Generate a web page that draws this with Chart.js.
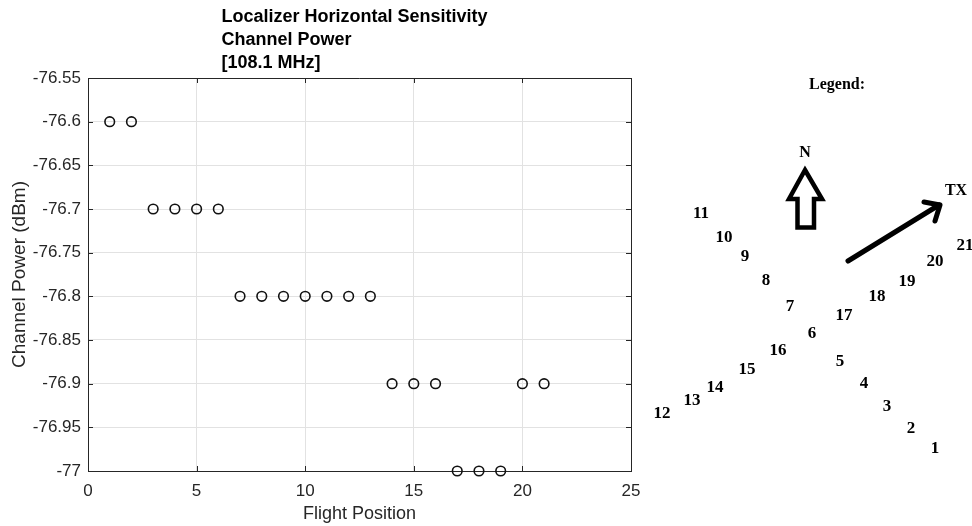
<!DOCTYPE html>
<html>
<head>
<meta charset="utf-8">
<title>Localizer Horizontal Sensitivity</title>
<script src="https://cdn.jsdelivr.net/npm/chart.js@4"></script>
<style>
  body { margin: 0; background: #fff; }
  #wrap { position: relative; width: 972px; height: 526px; }
  #main-chart { position: absolute; left: 0; top: 0; }
  #legend-chart { position: absolute; left: 640px; top: 0; }
</style>
</head>
<body>
<div id="wrap">
  <canvas id="main-chart" width="972" height="526"></canvas>
  <canvas id="legend-chart" width="332" height="526"></canvas>
</div>
<script>
// chart data
const titleLines = ["Localizer Horizontal Sensitivity", "Channel Power", "[108.1 MHz]"];
const flightPositions = [1, 2, 3, 4, 5, 6, 7, 8, 9, 10, 11, 12, 13, 14, 15, 16, 17, 18, 19, 20, 21];
const channelPower = [-76.6, -76.6, -76.7, -76.7, -76.7, -76.7, -76.8, -76.8, -76.8, -76.8, -76.8,
  -76.8, -76.8, -76.9, -76.9, -76.9, -77, -77, -77, -76.9, -76.9];
const xTicks = [0, 5, 10, 15, 20, 25];
const yTicks = [-77, -76.95, -76.9, -76.85, -76.8, -76.75, -76.7, -76.65, -76.6, -76.55];

// legend diagram (a picture in the original), in page pixel units
const legendLabels = ["1", "2", "3", "4", "5", "6", "7", "8", "9", "10", "11",
  "12", "13", "14", "15", "16", "17", "18", "19", "20", "21"];
const legendX = [935, 911, 887, 864, 840, 812, 790, 766, 745, 724, 701,
  662, 692, 715, 747, 778, 844, 877, 907, 935, 965];
const legendY = [449, 429, 407, 384, 362, 334, 307, 281, 257, 238, 214,
  414, 401, 388, 370, 351, 316, 297, 282, 262, 246];
const compassLabels = ["Legend:", "N", "TX"];
const compassX = [837, 805, 956];
const compassY = [85, 153, 191];
const northArrowX = [805, 822, 814, 814, 797.5, 797.5, 789];
const northArrowY = [170, 199, 199, 227.5, 227.5, 199, 199];
const txShaftX = [848, 939];
const txShaftY = [261, 205];
const txHeadX = [924, 940, 935];
const txHeadY = [202, 205, 221];

const axisColor = "#262626";
const plotLeft = 88, plotRight = 631, plotTop = 78, plotBottom = 471;

// title lines + inward ticks + box, MATLAB style
const matlabFrame = {
  id: "matlabFrame",
  afterDraw(chart) {
    const ctx = chart.ctx;
    const area = chart.chartArea;
    const xs = chart.scales.x, ys = chart.scales.y;
    ctx.save();
    ctx.strokeStyle = axisColor;
    ctx.lineWidth = 1;
    ctx.beginPath();
    ctx.moveTo(area.left, area.top + 0.5);
    ctx.lineTo(area.right + 0.5, area.top + 0.5);
    ctx.lineTo(area.right + 0.5, area.bottom);
    xTicks.forEach((t) => {
      const px = Math.round(xs.getPixelForValue(t)) + 0.5;
      ctx.moveTo(px, area.bottom);
      ctx.lineTo(px, area.bottom - 5);
      ctx.moveTo(px, area.top);
      ctx.lineTo(px, area.top + 5);
    });
    yTicks.forEach((t) => {
      const py = Math.round(ys.getPixelForValue(t)) + 0.5;
      ctx.moveTo(area.left, py);
      ctx.lineTo(area.left + 5, py);
      ctx.moveTo(area.right, py);
      ctx.lineTo(area.right - 5, py);
    });
    ctx.stroke();

    // title block: lines left-aligned, block roughly centred over the axes
    ctx.font = "bold 18px 'Liberation Sans', Arial, sans-serif";
    ctx.fillStyle = "#000";
    ctx.textBaseline = "middle";
    ctx.textAlign = "left";
    const widest = Math.max(...titleLines.map((l) => ctx.measureText(l).width));
    const x0 = (area.left + area.right) / 2 - widest / 2 - 5;
    titleLines.forEach((line, i) => {
      ctx.fillText(line, x0, 17 + i * 23);
    });
    ctx.restore();
  },
};

new Chart(document.getElementById("main-chart"), {
  type: "scatter",
  data: {
    datasets: [
      {
        label: "Channel Power",
        data: flightPositions.map((p, i) => ({ x: p, y: channelPower[i] })),
        clip: false,
        pointStyle: "circle",
        pointRadius: 4.8,
        pointHoverRadius: 4.8,
        pointBorderWidth: 1.6,
        pointBorderColor: "#111",
        pointBackgroundColor: "rgba(0,0,0,0)",
      },
    ],
  },
  options: {
    responsive: false,
    animation: false,
    events: [],
    layout: { padding: { top: plotTop, right: 972 - plotRight, bottom: 0, left: 0 } },
    plugins: { legend: { display: false }, tooltip: { enabled: false } },
    scales: {
      x: {
        type: "linear",
        min: 0,
        max: 25,
        afterBuildTicks: (scale) => {
          scale.ticks = xTicks.map((v) => ({ value: v }));
        },
        afterFit: (scale) => {
          scale.height = 526 - plotBottom;
        },
        ticks: {
          color: axisColor,
          font: { family: "'Liberation Sans', Arial, sans-serif", size: 17 },
          padding: 10,
          maxRotation: 0,
          callback: (v) => String(v),
        },
        grid: { color: "#e2e2e2", drawTicks: false, tickLength: 0 },
        border: { display: true, color: axisColor, width: 1 },
        title: {
          display: true,
          text: "Flight Position",
          color: axisColor,
          font: { family: "'Liberation Sans', Arial, sans-serif", size: 18 },
          padding: { top: 0, bottom: 1 },
        },
      },
      y: {
        type: "linear",
        min: -77,
        max: -76.55,
        afterBuildTicks: (scale) => {
          scale.ticks = yTicks.map((v) => ({ value: v }));
        },
        afterFit: (scale) => {
          scale.width = plotLeft;
        },
        ticks: {
          color: axisColor,
          font: { family: "'Liberation Sans', Arial, sans-serif", size: 17 },
          padding: 7,
          callback: (v) => String(Number(v.toFixed(2))),
        },
        grid: { color: "#e2e2e2", drawTicks: false, tickLength: 0 },
        border: { display: true, color: axisColor, width: 1 },
        title: {
          display: true,
          text: "Channel Power (dBm)",
          color: axisColor,
          font: { family: "'Liberation Sans', Arial, sans-serif", size: 19 },
          padding: { top: 8, bottom: 0 },
        },
      },
    },
  },
  plugins: [matlabFrame],
});

// legend diagram: labels and arrows placed through the chart's own scales
const diagramPainter = {
  id: "diagramPainter",
  afterDatasetsDraw(chart) {
    const ctx = chart.ctx;
    const xs = chart.scales.x, ys = chart.scales.y;
    ctx.save();
    ctx.fillStyle = "#000";
    ctx.textAlign = "center";
    ctx.textBaseline = "middle";
    ctx.font = "bold 17px 'Liberation Serif', 'Times New Roman', serif";
    legendLabels.forEach((lab, i) => {
      ctx.fillText(lab, xs.getPixelForValue(legendX[i]), ys.getPixelForValue(legendY[i]));
    });
    ctx.font = "bold 16px 'Liberation Serif', 'Times New Roman', serif";
    compassLabels.forEach((lab, i) => {
      ctx.fillText(lab, xs.getPixelForValue(compassX[i]), ys.getPixelForValue(compassY[i]));
    });

    ctx.strokeStyle = "#000";
    ctx.lineWidth = 4.5;
    ctx.lineJoin = "miter";
    ctx.beginPath();
    northArrowX.forEach((x, i) => {
      const px = xs.getPixelForValue(x), py = ys.getPixelForValue(northArrowY[i]);
      if (i === 0) ctx.moveTo(px, py);
      else ctx.lineTo(px, py);
    });
    ctx.closePath();
    ctx.stroke();

    ctx.lineWidth = 5;
    ctx.lineCap = "round";
    ctx.lineJoin = "round";
    ctx.beginPath();
    ctx.moveTo(xs.getPixelForValue(txShaftX[0]), ys.getPixelForValue(txShaftY[0]));
    ctx.lineTo(xs.getPixelForValue(txShaftX[1]), ys.getPixelForValue(txShaftY[1]));
    ctx.stroke();
    ctx.beginPath();
    txHeadX.forEach((x, i) => {
      const px = xs.getPixelForValue(x), py = ys.getPixelForValue(txHeadY[i]);
      if (i === 0) ctx.moveTo(px, py);
      else ctx.lineTo(px, py);
    });
    ctx.stroke();
    ctx.restore();
  },
};

new Chart(document.getElementById("legend-chart"), {
  type: "scatter",
  data: {
    datasets: [
      {
        label: "Flight positions",
        data: legendX.map((x, i) => ({ x: x, y: legendY[i] })),
        pointRadius: 0,
        pointHoverRadius: 0,
      },
    ],
  },
  options: {
    responsive: false,
    animation: false,
    events: [],
    layout: { padding: 0 },
    plugins: { legend: { display: false }, tooltip: { enabled: false } },
    scales: {
      x: { type: "linear", display: false, min: 640, max: 972 },
      y: { type: "linear", display: false, min: 0, max: 526, reverse: true },
    },
  },
  plugins: [diagramPainter],
});
</script>
</body>
</html>
